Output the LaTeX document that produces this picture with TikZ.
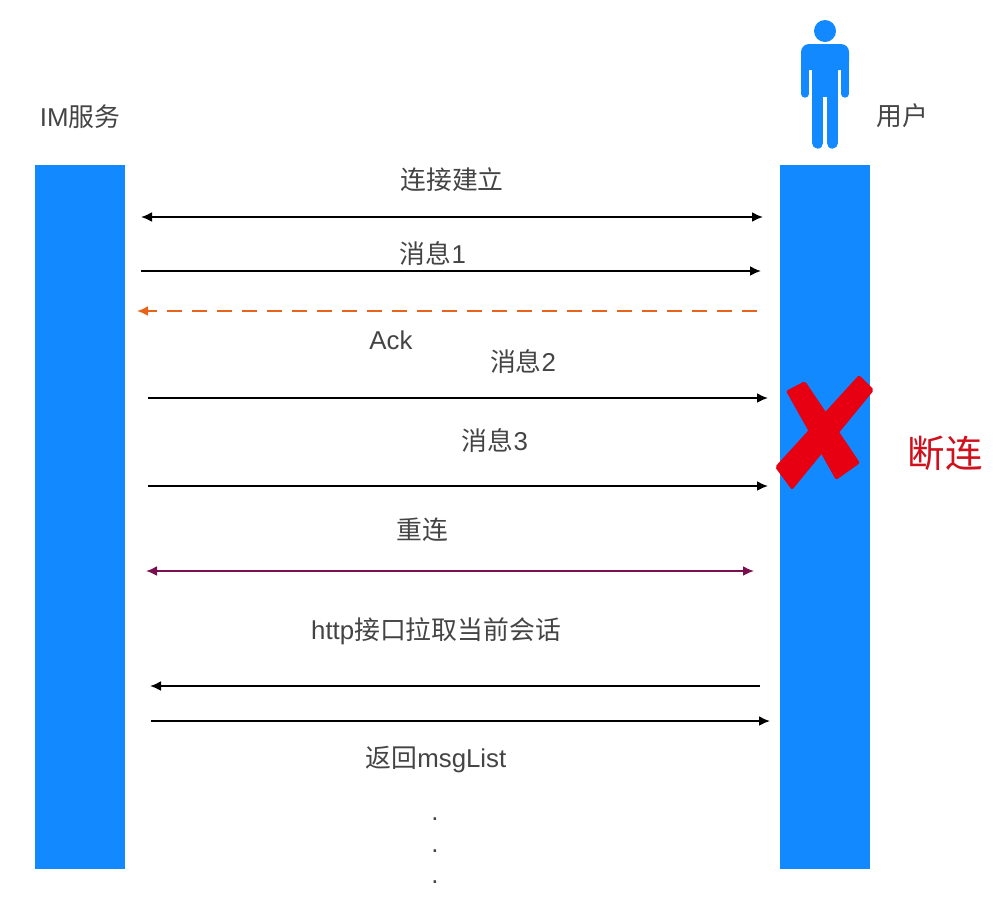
\documentclass[tikz,border=0pt]{standalone}
\usepackage{fontspec}
\usetikzlibrary{arrows.meta}
\setmainfont{Liberation Sans}
\newfontfamily\cjk{Noto Sans CJK SC}
\definecolor{barblue}{HTML}{1289FF}
\definecolor{txtgray}{HTML}{444444}
\definecolor{ackorange}{HTML}{E8641B}
\definecolor{relink}{HTML}{7A0F4F}
\definecolor{crossred}{HTML}{E60012}
\definecolor{lostred}{HTML}{D0101B}
\tikzset{
	lane/.style={fill=barblue,minimum width=1.8cm,minimum height=14.08cm,inner sep=0pt},
	lbl/.style={text=txtgray,font=\fontsize{14.7}{16}\selectfont,inner sep=0pt},
	msg/.style={-{Latex[length=0.22cm,width=0.2cm]},line width=0.04cm},
	duplex/.style={{Latex[length=0.22cm,width=0.2cm]}-{Latex[length=0.22cm,width=0.2cm]},line width=0.04cm},
	cross/.style={fill=crossred,rounded corners=0.04cm},
	limb/.style={barblue,line cap=round},
}
\begin{document}
\begin{tikzpicture}[x=0.02cm,y=-0.02cm]
\useasboundingbox (0,0) rectangle (996,914);

	\node[lane](imlane) at (80,517){};
	\node[lane](userlane) at (825,517){};
	\node[lbl](imlabel) at (80,117){IM{\cjk 服务}};
	\node[lbl](userlabel) at (902,116){\cjk 用户};

% person
\fill[barblue] (825,31) circle (11);
\fill[barblue,rounded corners=0.16cm] (801,70)--(801,44)--(849,44)--(849,70)--cycle;
\fill[barblue] (812,50) rectangle (838,97);
\draw[limb,line width=0.16cm] (805,60)--(805,93.7);
\draw[limb,line width=0.16cm] (845,60)--(845,93.7);
\draw[limb,line width=0.226cm] (817.7,90)--(817.7,143);
\draw[limb,line width=0.226cm] (832.3,90)--(832.3,143);

	\coordinate(a1) at (141,217);
	\coordinate(b1) at (763,217);
	\draw[duplex](a1)--(b1);
	\node[lbl](linkup) at (452,180){\cjk 连接建立};

	\coordinate(a2) at (141,271);
	\coordinate(b2) at (761,271);
	\draw[msg](a2)--(b2);
	\node[lbl](msg1) at (433,254){{\cjk 消息}1};

	\coordinate(a3) at (137,311);
	\coordinate(b3) at (757,311);
	\draw[msg,ackorange,dash pattern=on 0.3cm off 0.2cm](b3)--(a3);
	\node[lbl](ack) at (391,340){Ack};

	\coordinate(a4) at (148,398);
	\coordinate(b4) at (768,398);
	\draw[msg](a4)--(b4);
	\node[lbl](msg2) at (523,362){{\cjk 消息}2};

	\coordinate(a5) at (148,486);
	\coordinate(b5) at (768,486);
	\draw[msg](a5)--(b5);
	\node[lbl](msg3) at (495,441){{\cjk 消息}3};

% broken link
\fill[cross] (786,391)--(805,381)--(860,463)--(836,480)--cycle;
\fill[cross] (859,375)--(874,390)--(792,490)--(775,467)--cycle;
\node[text=lostred,font=\fontsize{21.3}{24}\selectfont\cjk,inner sep=0pt](lost) at (945,453){断连};

	\coordinate(a6) at (146,571);
	\coordinate(b6) at (754,571);
	\draw[duplex,relink](a6)--(b6);
	\node[lbl](relabel) at (422,530){\cjk 重连};

	\coordinate(a7) at (150,686);
	\coordinate(b7) at (760,686);
	\draw[msg](b7)--(a7);
	\node[lbl](pull) at (436,631){http{\cjk 接口拉取当前会话}};

	\coordinate(a8) at (151,721);
	\coordinate(b8) at (770,721);
	\draw[msg](a8)--(b8);
	\node[lbl](back) at (436,760){{\cjk 返回}msgList};

\node[lbl](dot1) at (435,819){.};
\node[lbl](dot2) at (435,851){.};
\node[lbl](dot3) at (435,882){.};
\end{tikzpicture}
\end{document}
